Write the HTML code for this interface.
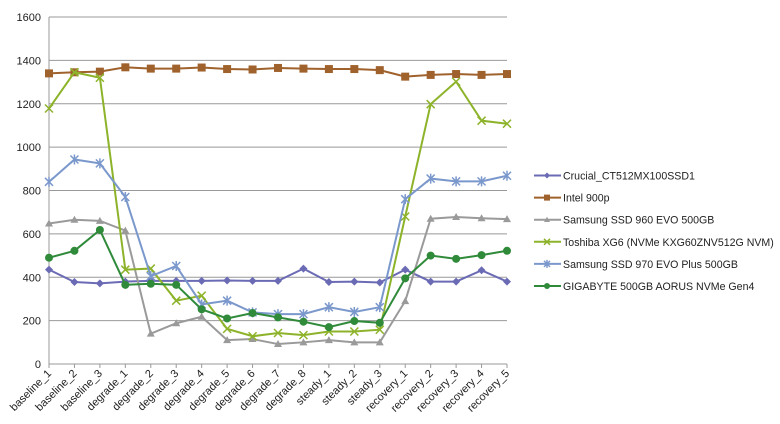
<!DOCTYPE html>
<html><head><meta charset="utf-8"><style>
body{margin:0;background:#fff;}
svg{display:block;font-family:"Liberation Sans",sans-serif;}
</style></head><body>
<svg id="c" width="780" height="424"></svg>
<script>
const categories=["baseline_1","baseline_2","baseline_3","degrade_1","degrade_2","degrade_3","degrade_4","degrade_5","degrade_6","degrade_7","degrade_8","steady_1","steady_2","steady_3","recovery_1","recovery_2","recovery_3","recovery_4","recovery_5"];
const yTicks=[0,200,400,600,800,1000,1200,1400,1600];
const seriesNames=["Crucial_CT512MX100SSD1","Intel 900p","Samsung SSD 960 EVO 500GB","Toshiba XG6 (NVMe KXG60ZNV512G NVM)","Samsung SSD 970 EVO Plus 500GB","GIGABYTE 500GB AORUS NVMe Gen4"];
const crucial=[435,378,372,380,383,383,383,385,383,383,440,378,380,376,435,380,380,432,380];
const intel=[1340,1345,1348,1368,1362,1362,1367,1360,1358,1365,1362,1360,1360,1355,1325,1333,1337,1333,1337];
const s960=[648,665,660,615,140,188,218,110,115,92,100,110,100,100,290,670,678,672,668];
const toshiba=[1178,1345,1320,435,440,292,315,162,128,143,133,150,150,158,680,1198,1302,1122,1108];
const s970=[840,943,925,770,405,452,275,292,238,230,230,262,240,262,760,855,842,842,868];
const gigabyte=[490,522,618,365,370,365,252,210,235,215,195,170,198,190,395,500,485,502,522];
const allSeries=[crucial,intel,s960,toshiba,s970,gigabyte];
const colors=["#6b6bb5","#a0622d","#9a9a9a","#8db32a","#7b98cc","#2f8a3a"];
const markers=["diamond","square","triangle","x","star","circle"];
const NS="http://www.w3.org/2000/svg";
const svg=document.getElementById('c');
const X0=49,X1=507,Y0=364,Y1=17;
const xs=i=>X0+i*(X1-X0)/(categories.length-1);
const ys=v=>Y0-v/1600*(Y0-Y1);
function mk(t,a,p){const e=document.createElementNS(NS,t);for(const k in a)e.setAttribute(k,a[k]);(p||svg).appendChild(e);return e;}
yTicks.forEach(v=>{
 const l=mk('line',{x1:X0,x2:X1,y1:ys(v),y2:ys(v),stroke:'#999','stroke-width':1});
 
 
 const t=mk('text',{x:X0-8,y:ys(v)+4,'text-anchor':'end','font-size':11,fill:'#222'});t.textContent=v;
 
 
});
const ax=mk('line',{x1:X0,x2:X0,y1:Y1,y2:Y0,stroke:'#999'});


categories.forEach((c,i)=>{
 mk('line',{x1:xs(i),x2:xs(i),y1:Y0,y2:Y0+4,stroke:'#999'});
 const t=mk('text',{x:xs(i)+3,y:Y0+10,'text-anchor':'end','font-size':11,fill:'#222',transform:`rotate(-45 ${xs(i)+3} ${Y0+10})`});
 t.textContent=c;
 
 
});
function marker(g,type,x,y,col,s){
 s=s||4;
 if(type==='diamond')mk('polygon',{points:`${x},${y-s} ${x+s},${y} ${x},${y+s} ${x-s},${y}`,fill:col},g);
 else if(type==='square')mk('rect',{x:x-s,y:y-s,width:2*s,height:2*s,fill:col},g);
 else if(type==='triangle')mk('polygon',{points:`${x},${y-s} ${x+s},${y+s*0.75} ${x-s},${y+s*0.75}`,fill:col},g);
 else if(type==='circle')mk('circle',{cx:x,cy:y,r:s,fill:col},g);
 else{mk('path',{d:`M${x-s},${y-s}L${x+s},${y+s}M${x-s},${y+s}L${x+s},${y-s}`+(type==='star'?`M${x},${y-s-1}V${y+s+1}`:''),stroke:col,'stroke-width':1.5,fill:'none'},g);}
}
allSeries.forEach((s,k)=>{
 const g=mk('g',{});
 
 
 mk('polyline',{points:s.map((v,i)=>xs(i)+','+ys(v)).join(' '),fill:'none',stroke:colors[k],'stroke-width':2},g);
 s.forEach((v,i)=>marker(g,markers[k],xs(i),ys(v),colors[k]));
 const ly=175.5+k*22.1;
 const lg=mk('g',{});
 
 
 mk('line',{x1:534,x2:561,y1:ly,y2:ly,stroke:colors[k],'stroke-width':2},lg);
 marker(lg,markers[k],547,ly,colors[k],3);
 const t=mk('text',{x:563,y:ly+4,'font-size':10.6,fill:'#222'},lg);t.textContent=seriesNames[k];
});
</script>
</body></html>
